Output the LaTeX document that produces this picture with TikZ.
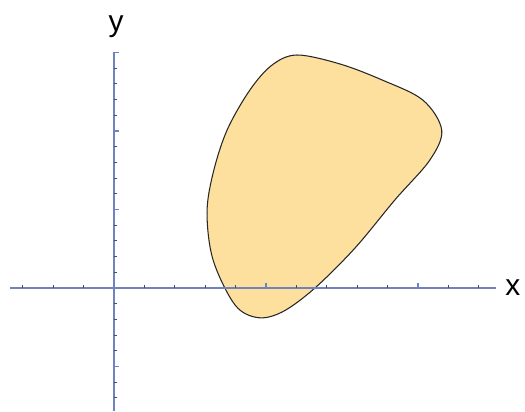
\documentclass[tikz,border=0pt]{standalone}
\usepackage{fontspec}
\setmainfont{Liberation Sans}

\definecolor{axisblue}{HTML}{6F83C2}
\definecolor{regionfill}{HTML}{FDDF9E}

\tikzset{
	axisline/.style={axisblue, line width=0.7pt},
	minortick/.style={black!70, line width=0.45pt},
	majortick/.style={axisblue, line width=0.6pt},
	axislabel/.style={font=\fontsize{17}{20}\selectfont, inner sep=0pt},
	region/.style={fill=regionfill, draw=black!85, line width=0.6pt},
}

\begin{document}
\begin{tikzpicture}[x=0.608cm, y=0.314cm]

	\def\minlen{1.7pt}
	\def\majlen{2.8pt}

	\useasboundingbox (-3.75,-7.898) rectangle (13.52,18.344);

	% region
	\draw[ region ] plot[ smooth cycle, tension=0.55 ] coordinates {
		(6.02,14.84) (7.43,14.27) (8.82,13.25) (10.16,11.97) (10.78,10.06)
		(10.39,8.15) (9.24,5.61) (7.93,2.55) (6.61,0) (5.56,-1.5)
		(4.74,-1.89) (3.98,-1.08) (3.26,1.78) (3.06,4.78) (3.26,7.32)
		(3.72,10.06) (4.47,12.61) (5.2,14.2)
	};

	% axes
	\draw[ axisline ] (-3.42, 0) -- (12.55, 0);
	\draw[ axisline ] (0, -7.83) -- (0, 15.03);

	\foreach \i in {-3,-2,-1,1,2,3,4,6,7,8,9,11,12}
		\draw[ minortick ] (\i, 0) -- ++(0pt, \minlen);
	\foreach \i in {5,10}
		\draw[ majortick ] (\i, 0) -- ++(0pt, \majlen);

	\foreach \j in {-7,-6,-4,-3,-2,-1,1,2,3,4,6,7,8,9,11,12,13,14}
		\draw[ minortick ] (0, \j) -- ++(\minlen, 0pt);
	\foreach \j in {-5,5,10,15}
		\draw[ majortick ] (0, \j) -- ++(\majlen, 0pt);

	\node[ axislabel ] (xlabel) at (13.12, 0) {x};
	\node[ axislabel ] (ylabel) at (0.07, 16.66) {y};

\end{tikzpicture}
\end{document}
